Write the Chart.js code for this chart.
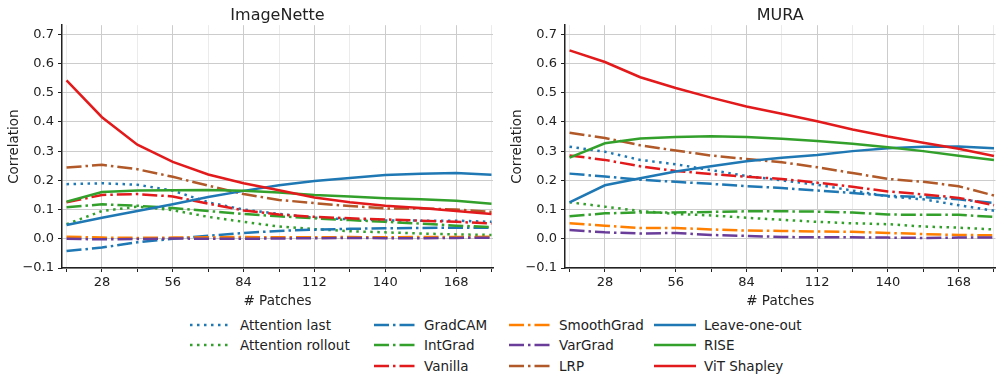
<!DOCTYPE html>
<html>
<head>
<meta charset="utf-8">
<script src="https://cdn.jsdelivr.net/npm/chart.js@4.4.1/dist/chart.umd.min.js"></script>
<style>
    body { margin: 0; background: #fff; font-family: "DejaVu Sans", sans-serif; }
    #wrap { position: relative; width: 997px; height: 376px; overflow: hidden; }
    #chartLeft { position: absolute; left: 0; top: 0; }
    #chartRight { position: absolute; left: 497px; top: 0; }
    .item { position: absolute; display: flex; align-items: center; height: 18px;
            font-size: 13.5px; color: #222; white-space: nowrap; }
    .item svg { margin-right: 8px; }
</style>
</head>
<body>
<div id="wrap">
    <canvas id="chartLeft" width="497" height="312"></canvas>
    <canvas id="chartRight" width="500" height="312"></canvas>
    <div id="legend"></div>
</div>
<script>
/* =========================================================
   DATA
========================================================== */
const patches = [14, 28, 42, 56, 70, 84, 98, 112, 126, 140, 154, 168, 182];
const xTickValues = [14, 28, 42, 56, 70, 84, 98, 112, 126, 140, 154, 168, 182];
const yTickValues = [-0.1, 0.0, 0.1, 0.2, 0.3, 0.4, 0.5, 0.6, 0.7];

const methods = ["Attention last", "Attention rollout", "GradCAM", "IntGrad", "Vanilla",
                 "SmoothGrad", "VarGrad", "LRP", "Leave-one-out", "RISE", "ViT Shapley"];

// ImageNette
const inAttnLast    = [0.187, 0.190, 0.185, 0.165, 0.125, 0.100, 0.085, 0.072, 0.067, 0.063, 0.062, 0.062, 0.058];
const inAttnRollout = [0.050, 0.095, 0.110, 0.098, 0.075, 0.058, 0.042, 0.033, 0.026, 0.022, 0.018, 0.015, 0.013];
const inGradCam     = [-0.042, -0.030, -0.012, 0.000, 0.010, 0.020, 0.027, 0.031, 0.034, 0.036, 0.037, 0.038, 0.038];
const inIntGrad     = [0.108, 0.118, 0.113, 0.105, 0.095, 0.085, 0.077, 0.070, 0.064, 0.058, 0.052, 0.045, 0.040];
const inVanilla     = [0.125, 0.150, 0.153, 0.145, 0.120, 0.097, 0.083, 0.075, 0.070, 0.066, 0.062, 0.058, 0.052];
const inSmoothGrad  = [0.007, 0.004, 0.003, 0.004, 0.005, 0.006, 0.005, 0.005, 0.006, 0.005, 0.006, 0.006, 0.007];
const inVarGrad     = [0.000, -0.002, -0.001, 0.001, 0.000, 0.000, 0.001, 0.002, 0.003, 0.002, 0.002, 0.003, 0.004];
const inLrp         = [0.244, 0.253, 0.238, 0.212, 0.182, 0.153, 0.133, 0.122, 0.112, 0.104, 0.104, 0.100, 0.092];
const inLeaveOneOut = [0.047, 0.072, 0.095, 0.118, 0.143, 0.164, 0.183, 0.198, 0.208, 0.218, 0.223, 0.225, 0.219];
const inRise        = [0.127, 0.160, 0.165, 0.166, 0.167, 0.164, 0.158, 0.150, 0.145, 0.139, 0.135, 0.130, 0.120];
const inVitShapley  = [0.542, 0.416, 0.322, 0.263, 0.220, 0.190, 0.166, 0.141, 0.125, 0.113, 0.105, 0.095, 0.085];

// MURA
const muAttnLast    = [0.315, 0.298, 0.270, 0.255, 0.235, 0.215, 0.200, 0.185, 0.165, 0.145, 0.135, 0.115, 0.096];
const muAttnRollout = [0.125, 0.110, 0.095, 0.085, 0.080, 0.072, 0.065, 0.058, 0.053, 0.050, 0.042, 0.038, 0.032];
const muGradCam     = [0.223, 0.213, 0.202, 0.195, 0.188, 0.180, 0.174, 0.165, 0.157, 0.147, 0.143, 0.135, 0.122];
const muIntGrad     = [0.077, 0.087, 0.090, 0.090, 0.092, 0.094, 0.094, 0.093, 0.090, 0.083, 0.082, 0.082, 0.075];
const muVanilla     = [0.285, 0.270, 0.248, 0.232, 0.222, 0.212, 0.205, 0.192, 0.178, 0.162, 0.152, 0.140, 0.115];
const muSmoothGrad  = [0.053, 0.045, 0.037, 0.037, 0.032, 0.028, 0.027, 0.025, 0.024, 0.020, 0.016, 0.013, 0.012];
const muVarGrad     = [0.030, 0.022, 0.018, 0.020, 0.013, 0.010, 0.006, 0.005, 0.005, 0.004, 0.003, 0.004, 0.004];
const muLrp         = [0.363, 0.345, 0.320, 0.302, 0.285, 0.273, 0.262, 0.245, 0.225, 0.205, 0.195, 0.180, 0.148];
const muLeaveOneOut = [0.125, 0.183, 0.207, 0.230, 0.248, 0.265, 0.277, 0.287, 0.300, 0.310, 0.315, 0.316, 0.310];
const muRise        = [0.278, 0.327, 0.343, 0.348, 0.351, 0.348, 0.342, 0.335, 0.325, 0.313, 0.300, 0.284, 0.270];
const muVitShapley  = [0.645, 0.605, 0.553, 0.516, 0.483, 0.453, 0.428, 0.402, 0.374, 0.350, 0.329, 0.308, 0.283];

/* =========================================================
   STYLE
========================================================== */
const COLORS = {
    blue: "#1f78b4", green: "#33a02c", red: "#e31a1c",
    orange: "#ff7f00", purple: "#6a3d9a", brown: "#b15928"
};
const methodColors = [COLORS.blue, COLORS.green, COLORS.blue, COLORS.green, COLORS.red,
                      COLORS.orange, COLORS.purple, COLORS.brown, COLORS.blue, COLORS.green, COLORS.red];
const methodStyles = ["dot", "dot", "dashdot", "dashdot", "dashdot",
                      "dashdot", "dashdot", "dashdot", "solid", "solid", "solid"];
const DASHES = { solid: [], dot: [2.5, 4.5], dashdot: [15, 4, 2.5, 4] };
const LINE_W = 2.5;
const TEXT = "#222";
const FONT = "'DejaVu Sans', sans-serif";

/* =========================================================
   CHART
========================================================== */
function criarGrafico(id, titulo, series, cfg) {
    const datasets = series.map((vals, i) => ({
        label: methods[i],
        data: patches.map((p, k) => ({ x: p, y: vals[k] })),
        borderColor: methodColors[i],
        backgroundColor: methodColors[i],
        borderWidth: LINE_W,
        borderDash: DASHES[methodStyles[i]],
        borderCapStyle: "butt",
        pointRadius: 0,
        tension: 0,
        fill: false,
        order: methods.length - i
    }));

    return new Chart(document.getElementById(id), {
        type: "line",
        data: { datasets },
        options: {
            responsive: false,
            animation: false,
            layout: { padding: { left: 0, right: cfg.padRight, top: 0, bottom: 0 } },
            plugins: {
                legend: { display: false },
                tooltip: { enabled: false },
                title: {
                    display: true,
                    text: titulo,
                    fullSize: false,
                    color: TEXT,
                    font: { family: FONT, size: 16, weight: "normal" },
                    padding: { top: 6, bottom: 0 }
                }
            },
            scales: {
                x: {
                    type: "linear",
                    min: 12.2,
                    max: 182.6,
                    afterBuildTicks: s => { s.ticks = xTickValues.map(v => ({ value: v })); },
                    afterFit: s => { s.height = 44; },
                    ticks: {
                        autoSkip: false, maxRotation: 0, padding: 3, color: TEXT,
                        font: { family: FONT, size: 13 },
                        callback: v => (v % 28 === 0 ? String(v) : "")
                    },
                    grid: {
                        color: c => (c.tick && c.tick.value % 28 === 0 ? "#cccccc" : "#ebebeb"),
                        tickColor: TEXT, tickLength: 4, lineWidth: 1
                    },
                    border: { color: TEXT, width: 1.5 },
                    title: {
                        display: true, text: "# Patches", color: TEXT,
                        font: { family: FONT, size: 13.5 }, padding: { top: 0, bottom: 2 }
                    }
                },
                y: {
                    min: -0.1,
                    max: 0.731,
                    afterBuildTicks: s => { s.ticks = yTickValues.map(v => ({ value: v })); },
                    afterFit: s => { s.width = cfg.yWidth; },
                    ticks: {
                        padding: 4, color: TEXT,
                        font: { family: FONT, size: 13 },
                        callback: v => (v < 0 ? "\u2212" + Math.abs(v).toFixed(1) : v.toFixed(1))
                    },
                    grid: { color: "#cccccc", tickColor: TEXT, tickLength: 4, lineWidth: 1 },
                    border: { color: TEXT, width: 1.5 },
                    title: {
                        display: true, text: "Correlation", color: TEXT,
                        font: { family: FONT, size: 13.5 }, padding: { top: cfg.yTitlePad, bottom: 0 }
                    }
                }
            }
        }
    });
}

criarGrafico("chartLeft", "ImageNette",
    [inAttnLast, inAttnRollout, inGradCam, inIntGrad, inVanilla, inSmoothGrad,
     inVarGrad, inLrp, inLeaveOneOut, inRise, inVitShapley],
    { yWidth: 62, padRight: 4, yTitlePad: 6 });

criarGrafico("chartRight", "MURA",
    [muAttnLast, muAttnRollout, muGradCam, muIntGrad, muVanilla, muSmoothGrad,
     muVarGrad, muLrp, muLeaveOneOut, muRise, muVitShapley],
    { yWidth: 68, padRight: 0, yTitlePad: 12 });

/* =========================================================
   LEGEND (4 columns, column-major like the original)
========================================================== */
const legendColumns = [
    ["Attention last", "Attention rollout"],
    ["GradCAM", "IntGrad", "Vanilla"],
    ["SmoothGrad", "VarGrad", "LRP"],
    ["Leave-one-out", "RISE", "ViT Shapley"]
];
const colX = [190, 374, 509, 654];
const rowY = [325, 345, 366];
const legend = document.getElementById("legend");

legendColumns.forEach((col, c) => {
    col.forEach((name, r) => {
        const i = methods.indexOf(name);
        const div = document.createElement("div");
        div.className = "item";
        div.style.left = colX[c] + "px";
        div.style.top = (rowY[r] - 9) + "px";
        const dash = DASHES[methodStyles[i]].join(" ");
        div.innerHTML =
            `<svg width="42" height="6"><line x1="0" y1="3" x2="42" y2="3" stroke="${methodColors[i]}"
                stroke-width="${LINE_W}" stroke-dasharray="${dash}"/></svg><span>${name}</span>`;
        legend.appendChild(div);
    });
});
</script>
</body>
</html>
